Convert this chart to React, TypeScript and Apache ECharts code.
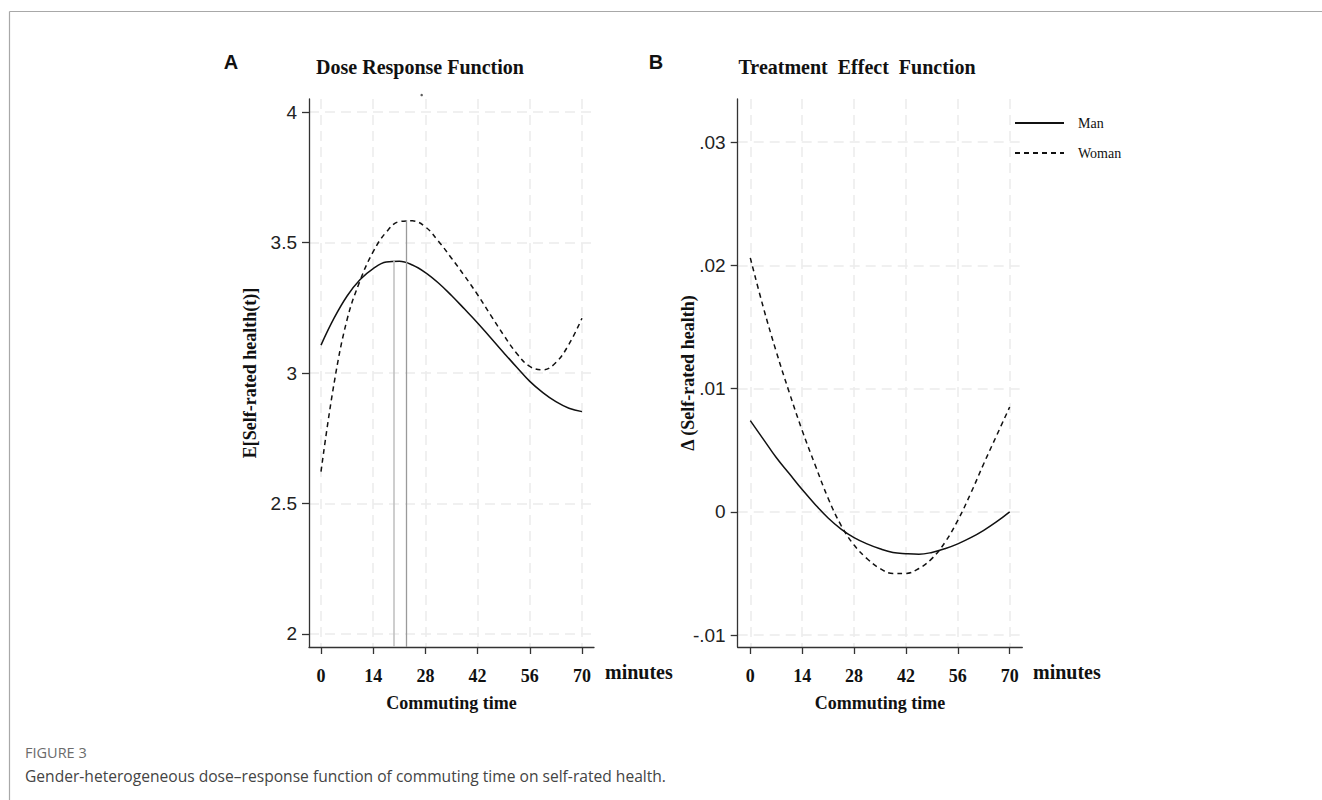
import React, { useEffect, useRef } from "react";
import * as echarts from "echarts";

// ---- data ----
const timeTicks = [0, 14, 28, 42, 56, 70];
const doseTicks = [2, 2.5, 3, 3.5, 4];
const effectTicks = [-0.01, 0, 0.01, 0.02, 0.03];

const manDose = [
  [0, 3.107], [3.5, 3.21], [7, 3.295], [10.5, 3.358], [14, 3.4], [17.5, 3.425],
  [21, 3.428], [24.5, 3.414], [28, 3.385], [31.5, 3.345], [35, 3.297],
  [38.5, 3.245], [42, 3.192], [45.5, 3.135], [49, 3.078], [52.5, 3.022],
  [56, 2.968], [59.5, 2.925], [63, 2.89], [66.5, 2.865], [70, 2.852],
];
const womanDose = [
  [0, 2.622], [3.5, 2.96], [7, 3.205], [10.5, 3.355], [14, 3.465], [17.5, 3.54],
  [21, 3.58], [24.5, 3.583], [28, 3.56], [31.5, 3.505], [35, 3.44],
  [38.5, 3.372], [42, 3.3], [45.5, 3.222], [49, 3.145], [52.5, 3.075],
  [56, 3.025], [59.5, 3.012], [63, 3.04], [66.5, 3.11], [70, 3.21],
];
const manEffect = [
  [0, 0.0074], [3.5, 0.0059], [7, 0.0044], [10.5, 0.0031], [14, 0.0018],
  [17.5, 0.0006], [21, -0.0005], [24.5, -0.0014], [28, -0.0021], [31.5, -0.0026],
  [35, -0.003], [38.5, -0.0033], [42, -0.0034], [45.5, -0.00345], [49, -0.0033],
  [52.5, -0.003], [56, -0.0026], [59.5, -0.0021], [63, -0.0015], [66.5, -0.0008],
  [70, 0],
];
const womanEffect = [
  [0, 0.0206], [3.5, 0.0166], [7, 0.013], [10.5, 0.0097], [14, 0.0066],
  [17.5, 0.0038], [21, 0.0011], [24.5, -0.0011], [28, -0.0027], [31.5, -0.0038],
  [35, -0.0046], [38.5, -0.005], [42, -0.005], [45.5, -0.0046], [49, -0.0038],
  [52.5, -0.0025], [56, -0.0007], [59.5, 0.0015], [63, 0.0039], [66.5, 0.0062],
  [70, 0.0085],
];
const manPeak = [19.5, 3.43];
const womanPeak = [22.9, 3.586];
const strayPoint = [[27, 4.065]];

const doseMin = 1.95;
const doseMax = 4.05;
const effectMin = -0.01097;
const effectMax = 0.03349;

const serif = "'Liberation Serif', 'Times New Roman', serif";
const sans = "'Liberation Sans', Arial, sans-serif";
const axisColor = "#333";
const ink = "#111";

const gridLine = {
  show: true,
  lineStyle: { color: "#ebebeb", width: 1.5, type: [10, 6] },
};

function xAxisCfg(gridIndex: number, min: number, max: number) {
  return {
    gridIndex,
    type: "value",
    min,
    max,
    axisLine: { show: true, onZero: false, lineStyle: { color: axisColor, width: 1.3 } },
    axisTick: { show: true, length: 7, customValues: timeTicks, lineStyle: { color: axisColor, width: 1.3 } },
    axisLabel: {
      customValues: timeTicks,
      fontFamily: serif,
      fontWeight: "bold",
      fontSize: 18,
      color: ink,
      margin: 20,
    },
    splitLine: gridLine,
    name: "Commuting time",
    nameLocation: "middle",
    nameGap: 47,
    nameMoveOverlap: false,
    nameTextStyle: { fontFamily: serif, fontWeight: "bold", fontSize: 18, color: ink },
  };
}

function fmtEffect(v: number) {
  if (Math.abs(v) < 1e-9) return "0";
  const s = Math.abs(v).toFixed(2).replace(/^0/, "");
  return (v < 0 ? "-" : "") + s;
}

export default function App() {
  const ref = useRef<HTMLDivElement>(null);
  useEffect(() => {
    if (!ref.current) return;
    const chart = echarts.init(ref.current, undefined, { renderer: "svg" });
    const lineSolid = { color: ink, width: 1.5, type: "solid" };
    const lineDash = { color: ink, width: 1.5, type: [5, 4] };
    const option: any = {
      animation: false,
      backgroundColor: "#fff",
      color: [ink, ink, "#333", ink, ink],
      grid: [
        { left: 309, top: 99, width: 285, height: 548 },
        { left: 737.7, top: 99, width: 284.6, height: 548 },
      ],
      xAxis: [xAxisCfg(0, -3.22, 73.22), xAxisCfg(1, -3.4, 73.41)],
      yAxis: [
        {
          gridIndex: 0,
          type: "value",
          min: doseMin,
          max: doseMax,
          axisLine: { show: true, onZero: false, lineStyle: { color: axisColor, width: 1.3 } },
          axisTick: { show: true, length: 7, customValues: doseTicks, lineStyle: { color: axisColor, width: 1.3 } },
          axisLabel: {
            customValues: doseTicks,
            formatter: (v: number) => String(v),
            fontFamily: sans,
            fontSize: 19,
            color: "#222",
            margin: 12,
          },
          splitLine: gridLine,
          name: "E[Self-rated health(t)]",
          nameLocation: "middle",
          nameGap: 50,
          nameRotate: 90,
          nameMoveOverlap: false,
          nameTextStyle: { fontFamily: serif, fontWeight: "bold", fontSize: 18, color: ink },
        },
        {
          gridIndex: 1,
          type: "value",
          min: effectMin,
          max: effectMax,
          axisLine: { show: true, onZero: false, lineStyle: { color: axisColor, width: 1.3 } },
          axisTick: { show: true, length: 7, customValues: effectTicks, lineStyle: { color: axisColor, width: 1.3 } },
          axisLabel: {
            customValues: effectTicks,
            formatter: fmtEffect,
            fontFamily: sans,
            fontSize: 19,
            color: "#222",
            margin: 12,
          },
          splitLine: gridLine,
          name: "Δ (Self-rated health)",
          nameLocation: "middle",
          nameGap: 41,
          nameRotate: 90,
          nameMoveOverlap: false,
          nameTextStyle: { fontFamily: serif, fontWeight: "bold", fontSize: 18, color: ink },
        },
      ],
      legend: {
        data: ["Man", "Woman"],
        orient: "vertical",
        left: 1014,
        top: 116,
        padding: 0,
        itemWidth: 49,
        itemHeight: 14,
        itemGap: 16,
        itemStyle: { opacity: 0 },
        textStyle: { fontFamily: serif, fontSize: 14, color: ink, padding: [0, 0, 0, 9] },
      },
      series: [
        {
          name: "Man",
          type: "line",
          xAxisIndex: 0,
          yAxisIndex: 0,
          data: manDose,
          smooth: 0.4,
          symbol: "none",
          lineStyle: lineSolid,
          z: 3,
          markLine: {
            silent: true,
            symbol: ["none", "none"],
            label: { show: false },
            lineStyle: { color: "#c2c2c2", width: 1.6, type: "solid" },
            data: [[{ coord: manPeak }, { coord: [manPeak[0], doseMin] }]],
          },
        },
        {
          name: "Woman",
          type: "line",
          xAxisIndex: 0,
          yAxisIndex: 0,
          data: womanDose,
          smooth: 0.4,
          symbol: "none",
          lineStyle: lineDash,
          z: 3,
          markLine: {
            silent: true,
            symbol: ["none", "none"],
            label: { show: false },
            lineStyle: { color: "#9a9a9a", width: 1.3, type: "solid" },
            data: [[{ coord: womanPeak }, { coord: [womanPeak[0], doseMin] }]],
          },
        },
        {
          name: "stray",
          type: "scatter",
          xAxisIndex: 0,
          yAxisIndex: 0,
          data: strayPoint,
          symbolSize: 2.5,
          clip: false,
          itemStyle: { color: "#333" },
          silent: true,
        },
        {
          name: "Man",
          type: "line",
          xAxisIndex: 1,
          yAxisIndex: 1,
          data: manEffect,
          smooth: 0.4,
          symbol: "none",
          lineStyle: lineSolid,
        },
        {
          name: "Woman",
          type: "line",
          xAxisIndex: 1,
          yAxisIndex: 1,
          data: womanEffect,
          smooth: 0.4,
          symbol: "none",
          lineStyle: lineDash,
        },
      ],
      graphic: [
        { type: "line", shape: { x1: 9.5, y1: 11.5, x2: 1322, y2: 11.5 }, style: { stroke: "#a8a8a8", lineWidth: 1.2 } },
        { type: "line", shape: { x1: 9.5, y1: 11.5, x2: 9.5, y2: 800 }, style: { stroke: "#a8a8a8", lineWidth: 1.2 } },
        { type: "text", x: 231, y: 62, style: { text: "A", font: `bold 20px ${sans}`, fill: ink, textAlign: "center", textVerticalAlign: "middle" } },
        { type: "text", x: 420, y: 67, style: { text: "Dose Response Function", font: `bold 20px ${serif}`, fill: ink, textAlign: "center", textVerticalAlign: "middle" } },
        { type: "text", x: 656, y: 62, style: { text: "B", font: `bold 20px ${sans}`, fill: ink, textAlign: "center", textVerticalAlign: "middle" } },
        { type: "text", x: 857, y: 67, style: { text: "Treatment  Effect  Function", font: `bold 20px ${serif}`, fill: ink, textAlign: "center", textVerticalAlign: "middle" } },
        { type: "text", x: 605, y: 672, style: { text: "minutes", font: `bold 20px ${serif}`, fill: ink, textAlign: "left", textVerticalAlign: "middle" } },
        { type: "text", x: 1033, y: 672, style: { text: "minutes", font: `bold 20px ${serif}`, fill: ink, textAlign: "left", textVerticalAlign: "middle" } },
        { type: "text", x: 25, y: 752, style: { text: "FIGURE 3", font: `14.5px 'Open Sans', sans-serif`, fill: "#6b6b6b", textAlign: "left", textVerticalAlign: "middle" } },
        { type: "text", x: 25, y: 776, style: { text: "Gender-heterogeneous dose–response function of commuting time on self-rated health.", font: `15.6px 'Open Sans', sans-serif`, fill: "#444", textAlign: "left", textVerticalAlign: "middle" } },
      ],
    };
    chart.setOption(option);
    return () => chart.dispose();
  }, []);
  return (
    <div
      ref={ref}
      style={{ position: "fixed", left: 0, top: 0, width: 1322, height: 800, background: "#fff" }}
    />
  );
}
